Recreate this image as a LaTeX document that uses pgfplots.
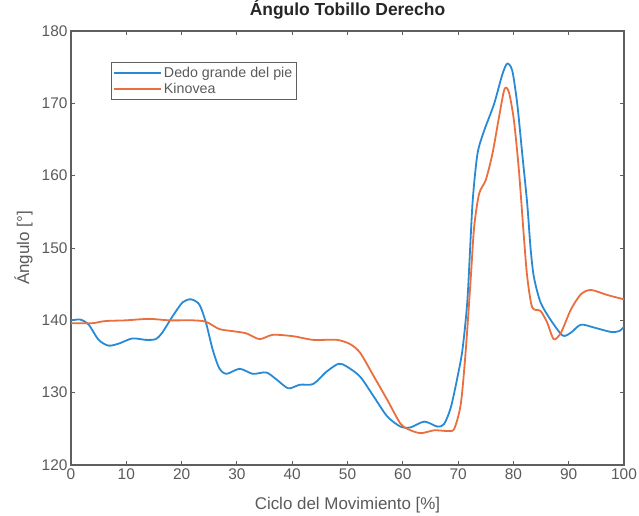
\documentclass[border=0pt]{standalone}
\usepackage{fontspec}
\setmainfont{Liberation Sans}
\usepackage{pgfplots}
\pgfplotsset{compat=1.18}
\definecolor{mblue}{RGB}{40,138,212}
\definecolor{morange}{RGB}{234,110,62}
\definecolor{axgray}{RGB}{95,95,95}
\definecolor{txgray}{RGB}{90,90,90}
\begin{document}
\begin{tikzpicture}
\begin{axis}[
 scale only axis, width=553bp, height=434bp,
 xmin=0, xmax=100, ymin=120, ymax=180,
 xtick={0,10,...,100}, ytick={120,130,...,180},
 axis line style={axgray, line width=1.3bp},
 tick style={axgray, line width=0.9bp},
 major tick length=4bp,
 tick align=inside,
 /pgf/number format/assume math mode=true,
 ticklabel style={font=\fontsize{15.5}{18}\selectfont, text=txgray},
 title={Ángulo Tobillo Derecho},
 title style={font=\fontsize{17.5}{20}\selectfont\bfseries, text=black!85, at={(axis description cs:0.5,1)}, anchor=base, yshift=9.5bp},
 xlabel={Ciclo del Movimiento [\%]},
 xlabel style={font=\fontsize{17}{20}\selectfont, text=txgray, at={(axis description cs:0.5,0)}, anchor=base, yshift=-44bp},
 ylabel={Ángulo [°]},
 ylabel style={font=\fontsize{17}{20}\selectfont, text=txgray, at={(axis description cs:-0.086,0.5)}, anchor=center},
 legend style={at={(axis description cs:0.0718,0.929)}, anchor=north west, font=\fontsize{14.3}{17.7}\selectfont, draw=axgray, line width=1bp, inner xsep=2bp, inner ysep=3bp, row sep=0bp, text=txgray},
 legend cell align=left,
 legend image code/.code={\draw[#1] (0bp,0bp) -- (47bp,0bp);},
]
\addplot[mblue, line width=1.8bp, line join=round, smooth, tension=0.45] coordinates {
(0,140.0) (1.7,140.1) (3.2,139.4) (5,137.3) (6.8,136.5) (8.7,136.8) (11.1,137.5) (13.5,137.3) (15.3,137.4) (16.5,138.3) (18.4,140.6) (20.2,142.5) (21.7,142.9) (23.2,142.2) (24.4,139.7) (25.6,136) (26.8,133.4) (28.1,132.6) (30.5,133.3) (32.9,132.6) (35.3,132.8) (37.2,131.8) (39.3,130.6) (41.4,131.1) (43.8,131.2) (46.2,132.9) (48.4,134) (49.9,133.6) (52.3,132.2) (54.8,129.4) (57.2,126.7) (59.6,125.3) (61.4,125.2) (63.9,126) (66.3,125.3) (67.5,125.7) (68.7,128) (69.9,132.2) (70.8,136) (71.7,143) (72.6,156.1) (73.5,163) (74.7,166.2) (76.5,169.9) (78,174) (78.9,175.5) (79.8,174.5) (80.7,169.9) (81.6,163) (82.5,156.1) (83.1,150) (83.7,146) (84.9,142.5) (86.7,140.1) (88.9,137.9) (90.4,138.3) (92.2,139.4) (94.6,139) (97.6,138.4) (99.1,138.5) (100,139.1)
};
\addlegendentry{Dedo grande del pie}
\addplot[morange, line width=1.8bp, line join=round, smooth, tension=0.45] coordinates {
(0,139.6) (3.8,139.6) (6.2,139.9) (9.9,140) (14.1,140.2) (17.8,140) (22,140) (24.4,139.8) (26.8,138.8) (29.3,138.5) (31.7,138.2) (34.1,137.4) (36.5,138) (40.2,137.8) (43.8,137.3) (48.1,137.3) (50.5,136.7) (52.3,135.5) (54.8,132.2) (57.2,129) (59.6,125.7) (61.4,124.8) (63.3,124.4) (65.7,124.8) (68.1,124.7) (69.3,125) (70.5,128.5) (71.4,136) (72.3,146) (72.9,152.9) (73.8,157.5) (75,159.4) (76.2,163) (77.4,168.1) (78.4,172) (79.2,171.5) (80.1,167.6) (81,160.7) (81.9,151.5) (82.5,146) (83.4,141.8) (84.9,141.3) (86.1,139.7) (87.3,137.4) (88.6,138.3) (90.4,141.5) (92.2,143.6) (94,144.2) (97,143.5) (100,142.9)
};
\addlegendentry{Kinovea}
\end{axis}
\pgfresetboundingbox
\path ([shift={(-71bp,-51bp)}]current axis.south west) rectangle ([shift={(15bp,31bp)}]current axis.north east);
\end{tikzpicture}
\end{document}
